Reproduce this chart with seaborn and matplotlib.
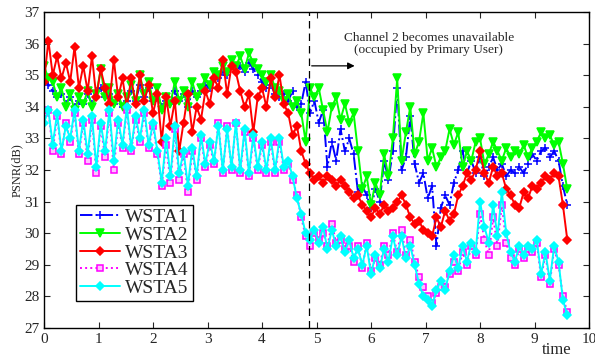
import numpy as np
import pandas as pd
import matplotlib
matplotlib.use("Agg")
import matplotlib.pyplot as plt
import seaborn as sns

# sample times (0 .. 9.6, step 0.08)
time = np.round(np.arange(121) * 0.08, 2)

wsta1 = [35.0, 34.7, 34.5, 34.3, 34.4, 34.1, 34.3, 34.0, 34.2, 34.1,
         34.4, 34.1, 34.5, 34.6, 34.3, 34.4, 34.1, 34.3, 34.0, 34.2,
         34.5, 34.2, 34.7, 34.3, 34.6, 34.2, 34.4, 34.0, 34.2, 34.1,
         34.5, 34.2, 34.4, 34.0, 34.5, 34.3, 34.5, 34.7, 34.6, 34.9,
         34.9, 35.1, 35.0, 35.3, 35.1, 35.3, 35.1, 35.4, 35.2, 35.0,
         34.8, 34.6, 34.7, 34.4, 34.3, 34.4, 34.2, 34.5, 34.0, 34.1,
         34.8, 33.8, 34.2, 33.5, 33.9, 32.1, 32.9, 32.3, 33.3, 32.6,
         33.0, 32.5, 31.3, 31.5, 31.2, 30.8, 31.4, 31.0, 32.3, 31.7,
         32.6, 34.6, 32.0, 32.4, 33.7, 32.2, 31.6, 31.9, 31.1, 31.5,
         29.6, 30.8, 31.2, 30.9, 31.6, 32.0, 32.6, 31.9, 32.3, 31.9,
         32.4, 31.8, 32.1, 32.4, 32.0, 32.2, 31.8, 32.0, 31.9, 32.1,
         31.9, 32.2, 32.5, 32.3, 32.6, 32.7, 32.4, 32.6, 32.3, 31.5,
         30.9]

wsta2 = [35.3, 34.9, 34.8, 34.3, 34.6, 34.0, 34.4, 33.9, 34.3, 34.1,
         34.5, 34.0, 34.4, 35.2, 34.3, 34.6, 34.1, 34.4, 34.0, 34.3,
         34.7, 34.2, 35.0, 34.4, 34.8, 34.2, 34.6, 33.9, 34.3, 34.1,
         34.8, 34.2, 34.5, 34.0, 34.8, 34.3, 34.6, 34.9, 34.7, 35.1,
         35.0, 35.3, 35.1, 35.5, 35.3, 35.6, 35.2, 35.7, 35.4, 35.2,
         35.0, 34.8, 35.0, 34.6, 34.5, 34.2, 34.4, 34.0, 34.2, 33.8,
         32.9, 34.6, 34.3, 34.6, 33.9, 33.2, 34.0, 34.3, 33.6, 34.1,
         33.5, 33.8, 32.6, 31.4, 31.8, 30.9, 31.6, 31.2, 32.5, 31.8,
         33.0, 34.9, 32.3, 33.2, 34.0, 32.5, 32.9, 33.8, 32.3, 32.7,
         32.1, 32.4, 32.6, 33.3, 32.8, 33.2, 32.1, 32.6, 32.3, 32.9,
         33.0, 32.2, 32.5, 32.9, 32.6, 32.3, 32.7, 32.4, 32.6, 32.5,
         32.8, 32.4, 32.7, 32.9, 33.2, 33.0, 33.1, 32.8, 32.9, 32.2,
         31.4]

wsta3 = [34.8, 36.1, 35.0, 35.6, 34.9, 35.4, 34.8, 35.9, 34.6, 35.3,
         34.5, 35.6, 34.3, 35.2, 34.6, 34.1, 35.5, 34.3, 34.9, 34.0,
         34.9, 34.1, 35.0, 34.2, 34.7, 33.8, 34.4, 32.9, 34.3, 33.4,
         34.2, 32.6, 33.5, 34.4, 33.2, 34.0, 33.6, 34.5, 34.1, 34.9,
         34.6, 35.5, 34.4, 35.3, 35.1, 34.5, 34.0, 34.4, 33.2, 34.3,
         34.6, 34.0, 34.9, 34.3, 35.0, 34.1, 33.8, 33.1, 33.4, 32.6,
         32.2, 31.9, 31.7, 31.8, 31.6, 31.8, 31.7, 31.5, 31.7, 31.5,
         31.3, 31.1, 31.2, 30.9, 30.7, 30.5, 30.8, 30.6, 30.9, 30.7,
         30.8, 31.0, 31.2, 30.9, 30.5, 30.3, 30.4, 30.1, 30.0, 29.9,
         30.5, 30.2, 30.7, 30.4, 30.6, 31.2, 31.5, 31.9, 31.7, 32.0,
         32.6, 31.9, 31.6, 32.1, 31.8, 31.9, 31.4, 31.2, 30.9, 30.8,
         31.3, 31.1, 31.5, 31.4, 31.6, 31.8, 31.7, 31.9, 31.8, 30.9,
         29.8]

wsta4 = [33.8, 33.9, 32.6, 33.7, 32.5, 33.5, 32.9, 33.8, 32.5, 33.5,
         32.3, 33.6, 31.9, 33.4, 32.4, 33.8, 32.0, 33.5, 32.7, 33.9,
         32.6, 33.6, 32.9, 33.8, 32.7, 33.4, 32.5, 31.5, 32.8, 31.6,
         33.3, 31.7, 32.5, 31.3, 32.6, 31.7, 33.0, 32.1, 32.8, 32.2,
         33.5, 31.9, 33.4, 32.0, 33.5, 31.9, 33.2, 31.8, 33.0, 32.0,
         32.8, 31.9, 32.9, 31.9, 32.9, 32.0, 32.2, 31.7, 31.2, 30.5,
         29.9, 29.6, 30.0, 29.8, 30.0, 29.6, 30.3, 29.7, 29.8, 29.5,
         29.6, 29.1, 29.6, 28.9, 29.7, 28.8, 29.2, 29.0, 29.6, 29.3,
         30.0, 29.4, 30.1, 29.3, 29.8, 29.1, 28.6, 28.3, 28.0, 27.8,
         28.1, 28.3, 28.3, 28.7, 29.1, 28.8, 29.4, 29.0, 29.6, 29.3,
         30.6, 29.8, 29.3, 30.5, 29.6, 30.9, 29.7, 29.2, 29.0, 29.5,
         29.2, 29.5, 29.4, 29.7, 28.6, 29.3, 28.4, 29.5, 29.0, 28.0,
         27.5]

wsta5 = [33.5, 33.9, 32.8, 33.8, 32.6, 33.4, 33.0, 33.9, 32.6, 33.6,
         32.5, 33.7, 32.1, 33.5, 32.6, 33.9, 32.3, 33.6, 32.8, 34.0,
         32.7, 33.7, 33.0, 33.9, 32.8, 33.5, 32.6, 31.6, 33.0, 31.8,
         33.4, 31.9, 32.6, 31.5, 32.7, 31.8, 33.1, 32.2, 32.9, 32.3,
         33.4, 32.0, 33.3, 32.1, 33.5, 32.0, 33.3, 31.9, 33.1, 32.1,
         32.9, 32.0, 33.0, 32.0, 33.0, 32.1, 32.3, 31.8, 31.1, 30.6,
         30.0, 29.8, 30.1, 29.7, 30.2, 29.5, 30.1, 29.6, 29.9, 29.4,
         29.8, 29.2, 29.5, 29.0, 29.6, 28.7, 29.3, 28.9, 29.5, 29.1,
         29.9, 29.3, 29.9, 29.2, 29.6, 29.0, 28.4, 28.0, 27.9, 27.7,
         28.2, 28.5, 28.2, 28.8, 29.3, 28.9, 29.6, 29.1, 29.7, 29.4,
         31.0, 30.2, 29.7, 30.9, 29.9, 31.3, 30.0, 29.4, 29.1, 29.6,
         29.3, 29.6, 29.5, 29.8, 28.7, 29.4, 28.5, 29.6, 29.1, 27.9,
         27.4]

series = {"WSTA1": wsta1, "WSTA2": wsta2, "WSTA3": wsta3, "WSTA4": wsta4, "WSTA5": wsta5}
styles = {
    "WSTA1": dict(color="#0000ff", marker="+", linestyle="-.", markersize=6,
                  markeredgecolor="#0000ff"),
    "WSTA2": dict(color="#00ff00", marker="v", linestyle="-", markersize=6,
                  markeredgecolor="#00ff00"),
    "WSTA3": dict(color="#ff0000", marker="D", linestyle="-", markersize=4.5,
                  markeredgecolor="#ff0000"),
    "WSTA4": dict(color="#ff00ff", marker="s", linestyle=":", markersize=5,
                  markeredgecolor="#ff00ff", markerfacecolor="#ffc0ff"),
    "WSTA5": dict(color="#00ffff", marker="D", linestyle="-", markersize=4.5,
                  markeredgecolor="#00ffff"),
}

sns.set_style("ticks")
plt.rcParams["font.family"] = ["Liberation Serif", "DejaVu Serif"]

fig = plt.figure(figsize=(5.95, 3.58), dpi=100)
ax = fig.add_axes([0.074, 0.084, 0.916, 0.882])

for name, vals in series.items():
    df = pd.DataFrame({"time": time, "psnr": vals})
    sns.lineplot(data=df, x="time", y="psnr", ax=ax, label=name,
                 linewidth=1.4, markeredgewidth=1.1, **styles[name])

# channel switch marker
ax.axvline(4.86, color="black", linestyle=(0, (6, 4)), linewidth=0.9)
ax.annotate("", xy=(5.75, 35.3), xytext=(4.86, 35.3),
            arrowprops=dict(arrowstyle="-|>", color="black", lw=0.9,
                            mutation_scale=10))
ax.text(7.06, 36.0, "Channel 2 becomes unavailable\n(occupied by Primary User)",
        ha="center", va="center", fontsize=9.6, linespacing=1.05)

ax.set_xlim(0, 10)
ax.set_ylim(27, 37)
ax.set_xticks(range(0, 11))
ax.set_yticks(range(27, 38))
ax.tick_params(direction="in", top=True, right=True, labelsize=11, length=4)
for s in ax.spines.values():
    s.set_linewidth(1.0)
    s.set_color("black")
ax.set_xlabel("")
ax.set_ylabel("PSNR(dB)", fontsize=9, labelpad=1)
fig.text(0.935, 0.0, "time", fontsize=12, ha="center", va="bottom")

leg = ax.legend(loc="upper left", bbox_to_anchor=(0.058, 0.39), fontsize=14,
                frameon=True, fancybox=False, edgecolor="black", framealpha=1,
                labelspacing=0.0, handlelength=2.1, borderpad=0.2,
                handletextpad=0.25, borderaxespad=0)
leg.get_frame().set_linewidth(1.0)

fig.savefig("out.png", dpi=100)
